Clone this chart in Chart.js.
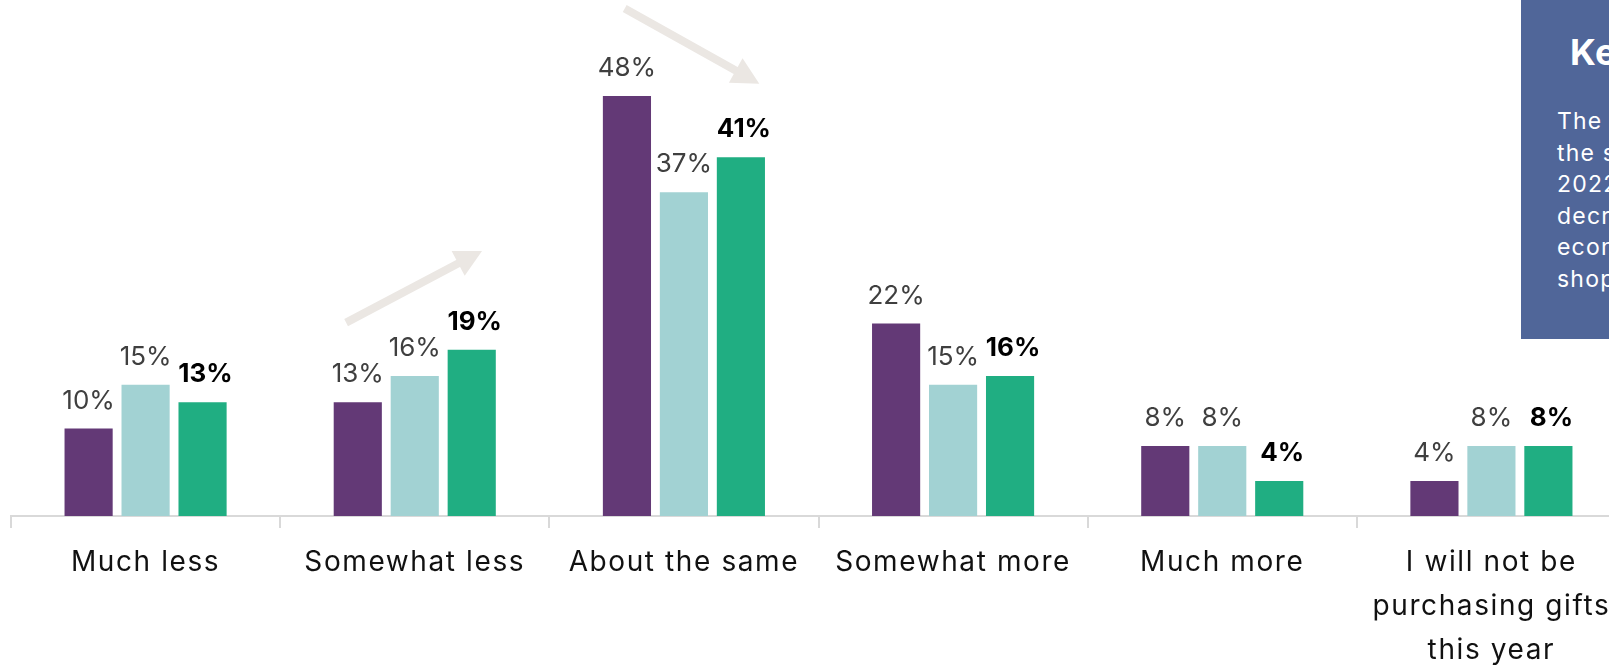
<!DOCTYPE html>
<html>
<head>
<meta charset="utf-8">
<title>Holiday gift spending</title>
<script src="https://cdn.jsdelivr.net/npm/chart.js@4.4.0/dist/chart.umd.min.js"></script>
<style>
    html, body { margin: 0; padding: 0; background: #fff; overflow: hidden; }
    body { width: 1609px; height: 668px; position: relative; font-family: Inter, 'Noto Sans', sans-serif; }
    #wrap { position: absolute; left: 0; top: 0; width: 1640px; height: 668px; }
    .key { position: absolute; left: 1521px; top: -10px; width: 360px; height: 349px; background: #506699; color: #fff; }
    .key h2 { position: absolute; left: 49px; top: 44px; margin: 0; font-size: 36px; line-height: 36px; font-weight: 700; letter-spacing: 0.5px; white-space: nowrap; }
    .key p { position: absolute; left: 36px; top: 116px; margin: 0; font-size: 23px; line-height: 31.5px; font-weight: 400; letter-spacing: 1.2px; white-space: nowrap; }
</style>
</head>
<body>
<div id="wrap"><canvas id="grafico" width="1640" height="668"></canvas></div>
<div class="key">
    <h2>Key Takeaway</h2>
    <p>The share of shoppers planning to spend<br>
       the same as last year dropped from 48% in<br>
       2022 to 41%, while those planning to<br>
       decrease spending rose, reflecting<br>
       economic pressure on holiday<br>
       shoppers.</p>
</div>
<script>
const categorias = ['Much less', 'Somewhat less', 'About the same', 'Somewhat more', 'Much more',
                    ['I will not be', 'purchasing gifts', 'this year']];
const valores2022 = [10, 13, 48, 22, 8, 4];
const valores2023 = [15, 16, 37, 15, 8, 8];
const valores2024 = [13, 19, 41, 16, 4, 8];

// arrows drawn over the chart: category index, offsets in category widths, ends in % units
const flechas = [
    { cat: 1, dx0: -0.255, v0: 22.1, dx1: 0.25, v1: 30.3 },
    { cat: 2, dx0: -0.22, v0: 58, dx1: 0.28, v1: 49.4 }
];

const colores = ['#633976', '#a2d2d3', '#20ae82'];

// wider letter spacing for the category labels
const espaciadoPlugin = {
    id: 'espaciado',
    beforeDraw(chart) { chart.ctx.letterSpacing = '1.6px'; },
    beforeDatasetsDraw(chart) { chart.ctx.letterSpacing = '0px'; }
};

// percentage labels above each bar, last series in bold
const etiquetasPlugin = {
    id: 'etiquetas',
    afterDatasetsDraw(chart) {
        const ctx = chart.ctx;
        chart.data.datasets.forEach((ds, i) => {
            const meta = chart.getDatasetMeta(i);
            const negrita = i === chart.data.datasets.length - 1;
            meta.data.forEach((bar, j) => {
                ctx.save();
                ctx.font = (negrita ? '700 ' : '400 ') + '26px Inter, sans-serif';
                ctx.fillStyle = negrita ? '#000' : '#3f3f3f';
                ctx.textAlign = 'center';
                ctx.textBaseline = 'alphabetic';
                ctx.fillText(ds.data[j] + '%', bar.x + (negrita ? 3 : 0), bar.y - 20);
                ctx.restore();
            });
        });
    }
};

const flechasPlugin = {
    id: 'flechas',
    afterDraw(chart) {
        const ctx = chart.ctx;
        const x = chart.scales.x;
        const y = chart.scales.y;
        const anchoCat = x.width / chart.data.labels.length;
        flechas.forEach(f => {
            const x0 = x.getPixelForValue(f.cat) + f.dx0 * anchoCat;
            const y0 = y.getPixelForValue(f.v0);
            const x1 = x.getPixelForValue(f.cat) + f.dx1 * anchoCat;
            const y1 = y.getPixelForValue(f.v1);
            const largo = Math.hypot(x1 - x0, y1 - y0);
            const ux = (x1 - x0) / largo;
            const uy = (y1 - y0) / largo;
            const cabeza = 27;
            const media = 14;
            const bx = x1 - ux * cabeza;
            const by = y1 - uy * cabeza;
            ctx.save();
            ctx.strokeStyle = '#ebe7e3';
            ctx.fillStyle = '#ebe7e3';
            ctx.lineWidth = 8;
            ctx.beginPath();
            ctx.moveTo(x0, y0);
            ctx.lineTo(bx + ux * 2, by + uy * 2);
            ctx.stroke();
            ctx.beginPath();
            ctx.moveTo(x1, y1);
            ctx.lineTo(bx - uy * media, by + ux * media);
            ctx.lineTo(bx + uy * media, by - ux * media);
            ctx.closePath();
            ctx.fill();
            ctx.restore();
        });
    }
};

const series = [valores2022, valores2023, valores2024];

new Chart(document.getElementById('grafico').getContext('2d'), {
    type: 'bar',
    data: {
        labels: categorias,
        datasets: series.map((vals, i) => ({
            label: ['2022', '2023', '2024'][i],
            data: vals,
            backgroundColor: colores[i],
            borderWidth: 0,
            categoryPercentage: 0.635,
            barPercentage: 0.845
        }))
    },
    options: {
        responsive: false,
        animation: false,
        devicePixelRatio: 1,
        layout: { padding: { left: 11, right: 14, top: 26, bottom: 0 } },
        plugins: {
            legend: { display: false },
            tooltip: { enabled: false }
        },
        scales: {
            x: {
                offset: true,
                grid: {
                    display: true,
                    offset: true,
                    drawOnChartArea: false,
                    drawTicks: true,
                    tickLength: 12,
                    color: '#d9d9d9',
                    lineWidth: 2
                },
                border: { display: true, color: '#d9d9d9', width: 2 },
                ticks: {
                    color: '#111',
                    font: { family: 'Inter, sans-serif', size: 28, lineHeight: '44px' },
                    padding: 13,
                    autoSkip: false,
                    maxRotation: 0
                },
                afterFit(scale) { scale.height = 152; }
            },
            y: {
                display: false,
                min: 0,
                max: 56
            }
        }
    },
    plugins: [espaciadoPlugin, etiquetasPlugin, flechasPlugin]
});
</script>
</body>
</html>
